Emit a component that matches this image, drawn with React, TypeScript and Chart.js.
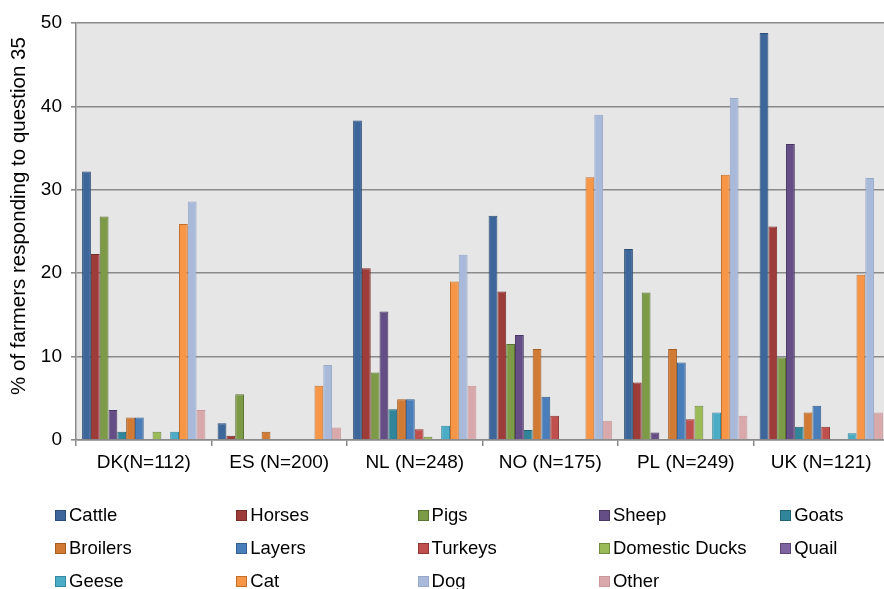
import React, { useEffect, useRef } from "react";
import { Chart, registerables } from "chart.js";

Chart.register(...registerables);

const categories = ["DK(N=112)", "ES (N=200)", "NL (N=248)", "NO (N=175)", "PL (N=249)", "UK (N=121)"];
const seriesNames = [
  "Cattle", "Horses", "Pigs", "Sheep", "Goats",
  "Broilers", "Layers", "Turkeys", "Domestic Ducks", "Quail",
  "Geese", "Cat", "Dog", "Other",
];
const cattle = [32.2, 2.0, 38.3, 26.9, 22.9, 48.8];
const horses = [22.3, 0.5, 20.6, 17.8, 6.9, 25.6];
const pigs = [26.8, 5.5, 8.1, 11.5, 17.7, 9.9];
const sheep = [3.6, 0, 15.4, 12.6, 0.9, 35.5];
const goats = [1.0, 0, 3.7, 1.2, 0, 1.6];
const broilers = [2.7, 1.0, 4.9, 10.9, 10.9, 3.3];
const layers = [2.7, 0, 4.9, 5.2, 9.3, 4.1];
const turkeys = [0, 0, 1.3, 2.9, 2.5, 1.6];
const domesticDucks = [1.0, 0, 0.4, 0, 4.1, 0];
const quail = [0, 0, 0, 0, 0, 0];
const geese = [1.0, 0, 1.7, 0, 3.3, 0.8];
const cat = [25.9, 6.5, 19.0, 31.5, 31.8, 19.8];
const dog = [28.6, 9.0, 22.2, 39.0, 41.0, 31.4];
const other = [3.6, 1.5, 6.5, 2.3, 2.9, 3.3];
const yTicks = [0, 10, 20, 30, 40, 50];
const yTitle = "% of farmers responding to question 35";

const seriesValues = [cattle, horses, pigs, sheep, goats, broilers, layers, turkeys, domesticDucks, quail, geese, cat, dog, other];

const fills = [
  "#3D679A", "#9E3C3A", "#7D9A46", "#654D86", "#30859A",
  "#D07A33", "#4A7EBB", "#C0504D", "#9BBB59", "#8064A2",
  "#4BACC6", "#F79646", "#A9B9D9", "#D9A8AA",
];
const borders = [
  "#2B4C74", "#772B29", "#5C7433", "#4A3864", "#236474",
  "#A35C22", "#365E8E", "#8E3735", "#73893F", "#5C4776",
  "#3489A0", "#C26F2C", "#98A8C8", "#C89799",
];

const FONT = "'Liberation Sans', Arial, sans-serif";

const bgPlugin = {
  id: "plotBg",
  beforeDraw(chart: any) {
    const { ctx, chartArea } = chart;
    const { left, top, right, bottom } = chartArea;
    ctx.save();
    ctx.fillStyle = "#E6E6E6";
    ctx.fillRect(left, top, right - left, bottom - top);
    ctx.restore();
  },
};

const titlePlugin = {
  id: "yTitle",
  afterDraw(chart: any) {
    const { ctx } = chart;
    ctx.save();
    ctx.translate(19, 216);
    ctx.rotate(-Math.PI / 2);
    ctx.font = `20.5px ${FONT}`;
    ctx.fillStyle = "#000";
    ctx.textAlign = "center";
    ctx.textBaseline = "middle";
    ctx.fillText(yTitle, 0, 0);
    ctx.restore();
  },
};

export default function App() {
  const canvasRef = useRef<HTMLCanvasElement | null>(null);

  useEffect(() => {
    const canvas = canvasRef.current;
    if (!canvas) return;
    const chart = new Chart(canvas, {
      type: "bar",
      data: {
        labels: categories,
        datasets: seriesNames.map((name, i) => ({
          label: name,
          data: seriesValues[i],
          backgroundColor: fills[i],
          borderColor: borders[i],
          borderWidth: (c: any) => (c.raw > 0 ? 1 : 0),
          borderSkipped: "bottom",
          categoryPercentage: 0.91,
          barPercentage: 1,
        })),
      },
      options: {
        animation: false,
        responsive: false,
        maintainAspectRatio: false,
        devicePixelRatio: 1,
        layout: { padding: { left: 0, top: 23, right: 3, bottom: 109 } },
        plugins: {
          legend: { display: false },
          tooltip: { enabled: false },
        },
        scales: {
          x: {
            afterFit: (s: any) => { s.height = 40; },
            grid: {
              display: true,
              drawOnChartArea: false,
              drawTicks: true,
              tickLength: 6,
              color: "#8a8a8a",
              lineWidth: 1.5,
              offset: true,
            },
            border: { display: true, color: "#8a8a8a", width: 1.5 },
            ticks: {
              color: "#000",
              font: { family: FONT, size: 19 },
              padding: 5,
              maxRotation: 0,
              autoSkip: false,
            },
          },
          y: {
            min: 0,
            max: 50,
            afterFit: (s: any) => { s.width = 76; },
            afterBuildTicks: (s: any) => { s.ticks = yTicks.map((v) => ({ value: v })); },
            grid: {
              color: "#8a8a8a",
              lineWidth: 1.6,
              tickLength: 5,
              drawTicks: true,
            },
            border: { display: true, color: "#8a8a8a", width: 1.5 },
            ticks: {
              color: "#000",
              font: { family: FONT, size: 19 },
              padding: 9,
            },
          },
        },
      },
      plugins: [bgPlugin, titlePlugin],
    });
    return () => chart.destroy();
  }, []);

  return (
    <div style={{ position: "fixed", left: 0, top: 0, width: 884, height: 589, overflow: "hidden", background: "#fff" }}>
      <canvas ref={canvasRef} width={892} height={589} style={{ display: "block", width: 892, height: 589 }} />
      {seriesNames.map((name, i) => {
        const col = i % 5;
        const row = Math.floor(i / 5);
        return (
          <div
            key={name}
            style={{
              position: "absolute",
              left: 55 + col * 181.3,
              top: 515 + row * 33 - 12,
              height: 24,
              display: "flex",
              alignItems: "center",
              fontFamily: FONT,
              fontSize: 18.5,
              color: "#000",
              whiteSpace: "nowrap",
            }}
          >
            <span
              style={{
                display: "inline-block",
                width: 9,
                height: 9,
                background: fills[i],
                border: `1px solid ${borders[i]}`,
                marginRight: 3,
              }}
            />
            <span>{name}</span>
          </div>
        );
      })}
    </div>
  );
}
